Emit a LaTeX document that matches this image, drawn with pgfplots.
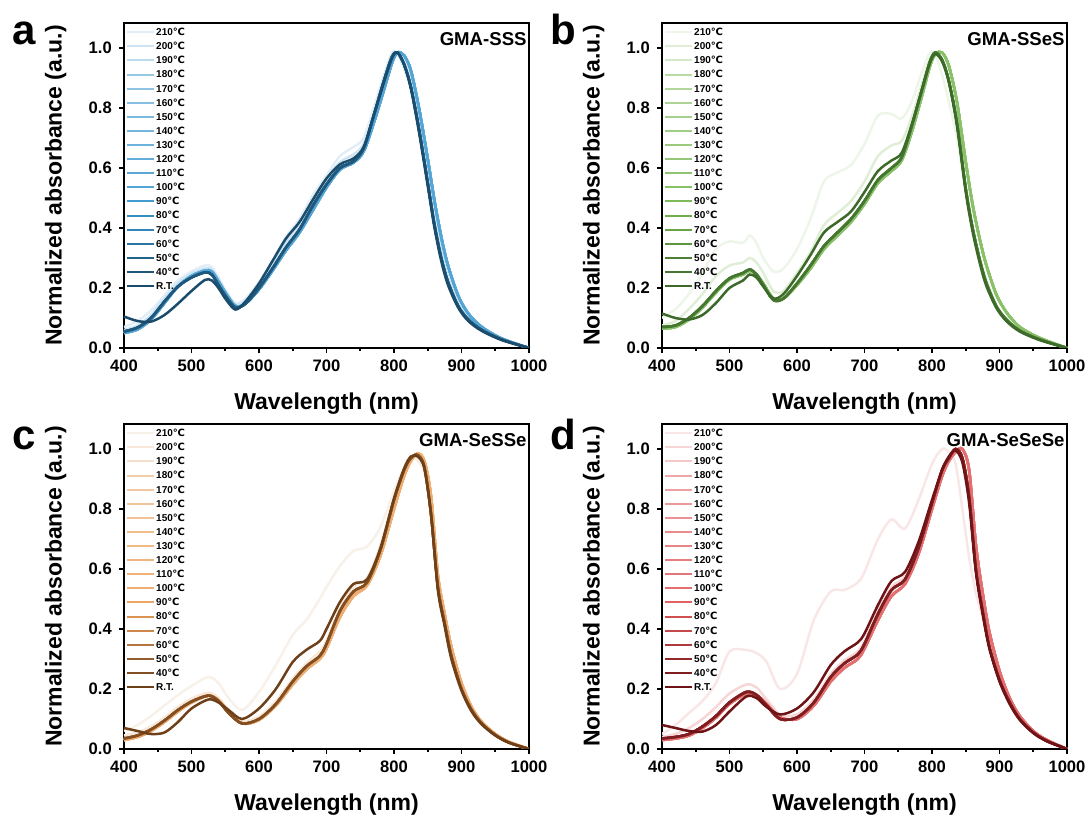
\documentclass[border=0pt]{standalone}
\usepackage{fontspec}
\setmainfont{Liberation Sans}
\newfontfamily\symfont{DejaVu Sans}
\usepackage{pgfplots}
\usepackage{pgfplotstable}
\pgfplotsset{compat=1.18}

% palettes: pale / mid / dark for each panel
\definecolor{aP}{HTML}{E2EEF7}\definecolor{aM}{HTML}{3A98D0}\definecolor{aD}{HTML}{1B4C6B}
\definecolor{bP}{HTML}{EEF5E9}\definecolor{bM}{HTML}{77B852}\definecolor{bD}{HTML}{3D6A2B}
\definecolor{cP}{HTML}{F8F1EA}\definecolor{cM}{HTML}{EDA25C}\definecolor{cD}{HTML}{6E4019}
\definecolor{dP}{HTML}{F9E7E7}\definecolor{dM}{HTML}{E05A5C}\definecolor{dD}{HTML}{6E1416}

\newcommand{\dC}{{\symfont ℃}}

% GMA-SSS
\pgfplotstableread{
x h210 h200 bl bd rt
400 0.070 0.060 0.050 0.055 0.105
420 0.090 0.075 0.062 0.068 0.090
440 0.125 0.110 0.095 0.100 0.088
460 0.175 0.165 0.150 0.155 0.110
480 0.225 0.215 0.205 0.205 0.148
500 0.255 0.248 0.240 0.235 0.190
520 0.275 0.265 0.258 0.252 0.227
530 0.270 0.262 0.255 0.245 0.225
540 0.235 0.228 0.222 0.210 0.200
550 0.195 0.190 0.185 0.175 0.165
565 0.150 0.145 0.140 0.135 0.128
580 0.165 0.158 0.148 0.148 0.155
600 0.220 0.210 0.195 0.200 0.215
620 0.290 0.278 0.258 0.265 0.290
640 0.370 0.350 0.325 0.335 0.365
660 0.430 0.410 0.385 0.395 0.420
680 0.510 0.490 0.460 0.475 0.495
700 0.575 0.560 0.535 0.545 0.565
720 0.640 0.620 0.595 0.600 0.612
740 0.670 0.645 0.618 0.622 0.632
755 0.700 0.680 0.655 0.665 0.670
770 0.800 0.780 0.750 0.775 0.775
785 0.910 0.895 0.860 0.890 0.885
797 0.985 0.975 0.950 0.970 0.965
805 0.980 0.985 0.985 0.985 0.985
815 0.930 0.955 0.975 0.945 0.945
825 0.860 0.890 0.925 0.870 0.865
837 0.720 0.750 0.800 0.730 0.720
850 0.550 0.580 0.630 0.550 0.540
860 0.420 0.440 0.490 0.410 0.400
870 0.310 0.330 0.370 0.300 0.290
880 0.230 0.240 0.275 0.220 0.210
895 0.150 0.155 0.175 0.140 0.135
910 0.100 0.100 0.115 0.095 0.090
930 0.062 0.064 0.070 0.060 0.057
960 0.030 0.030 0.031 0.028 0.026
1000 0.000 0.000 0.000 0.000 0.000
}\dataA

% GMA-SSeS
\pgfplotstableread{
x h210 h200 bl bd rt
400 0.100 0.075 0.065 0.070 0.115
420 0.130 0.090 0.070 0.075 0.100
440 0.180 0.130 0.095 0.100 0.095
460 0.250 0.180 0.135 0.140 0.110
480 0.330 0.240 0.185 0.190 0.150
500 0.355 0.275 0.228 0.232 0.200
520 0.350 0.285 0.245 0.250 0.225
530 0.375 0.300 0.258 0.262 0.245
540 0.350 0.285 0.245 0.245 0.235
550 0.300 0.250 0.215 0.210 0.205
565 0.255 0.190 0.165 0.160 0.165
580 0.265 0.190 0.165 0.165 0.180
600 0.330 0.250 0.210 0.215 0.240
620 0.430 0.320 0.265 0.275 0.310
640 0.555 0.410 0.330 0.340 0.385
660 0.585 0.450 0.375 0.385 0.420
680 0.610 0.490 0.420 0.430 0.455
700 0.680 0.555 0.480 0.490 0.520
720 0.775 0.640 0.550 0.560 0.590
740 0.780 0.675 0.590 0.600 0.625
755 0.765 0.690 0.625 0.635 0.650
770 0.820 0.770 0.720 0.740 0.745
785 0.920 0.880 0.840 0.860 0.860
797 0.985 0.965 0.940 0.955 0.950
805 0.975 0.985 0.980 0.985 0.980
815 0.910 0.955 0.985 0.960 0.955
825 0.820 0.890 0.940 0.890 0.885
837 0.700 0.750 0.820 0.750 0.740
850 0.520 0.540 0.620 0.530 0.520
860 0.390 0.410 0.480 0.400 0.390
870 0.290 0.310 0.370 0.300 0.290
880 0.210 0.230 0.280 0.220 0.210
895 0.135 0.145 0.180 0.140 0.135
910 0.090 0.097 0.120 0.095 0.090
930 0.055 0.060 0.070 0.058 0.055
960 0.026 0.028 0.033 0.028 0.026
1000 0.000 0.000 0.000 0.000 0.000
}\dataB

% GMA-SeSSe
\pgfplotstableread{
x h210 h200 bl bd rt
400 0.060 0.045 0.030 0.035 0.070
420 0.080 0.055 0.040 0.045 0.060
440 0.110 0.075 0.060 0.065 0.050
460 0.145 0.105 0.090 0.095 0.055
480 0.180 0.140 0.125 0.130 0.090
500 0.210 0.168 0.155 0.158 0.135
525 0.240 0.188 0.178 0.178 0.165
540 0.220 0.170 0.163 0.160 0.155
555 0.170 0.130 0.125 0.120 0.130
575 0.130 0.093 0.085 0.085 0.100
600 0.190 0.108 0.097 0.100 0.135
625 0.280 0.160 0.145 0.150 0.200
650 0.380 0.235 0.215 0.225 0.290
670 0.430 0.285 0.265 0.275 0.330
690 0.500 0.325 0.300 0.310 0.360
700 0.540 0.360 0.335 0.350 0.400
720 0.610 0.470 0.440 0.460 0.490
740 0.660 0.540 0.510 0.525 0.550
760 0.675 0.570 0.545 0.555 0.565
780 0.740 0.680 0.645 0.665 0.670
800 0.860 0.840 0.800 0.830 0.835
815 0.940 0.935 0.910 0.930 0.935
825 0.975 0.970 0.960 0.970 0.975
835 0.960 0.975 0.985 0.980 0.975
845 0.920 0.935 0.960 0.940 0.935
855 0.780 0.790 0.840 0.780 0.780
865 0.540 0.550 0.580 0.540 0.530
875 0.410 0.420 0.450 0.420 0.410
885 0.300 0.310 0.340 0.310 0.300
900 0.190 0.200 0.220 0.200 0.195
915 0.125 0.130 0.140 0.130 0.125
930 0.080 0.085 0.090 0.085 0.082
950 0.045 0.047 0.050 0.047 0.045
970 0.020 0.022 0.024 0.022 0.021
1000 0.000 0.000 0.000 0.000 0.000
}\dataC

% GMA-SeSeSe
\pgfplotstableread{
x h210 h200 bl bd rt
400 0.050 0.040 0.030 0.035 0.080
420 0.080 0.050 0.035 0.040 0.070
440 0.120 0.070 0.045 0.050 0.060
460 0.160 0.100 0.070 0.075 0.058
480 0.220 0.140 0.105 0.110 0.080
500 0.325 0.185 0.150 0.155 0.125
525 0.330 0.215 0.185 0.190 0.175
540 0.320 0.205 0.180 0.180 0.170
555 0.290 0.165 0.150 0.145 0.140
575 0.200 0.115 0.105 0.100 0.115
600 0.250 0.115 0.100 0.105 0.135
625 0.430 0.165 0.145 0.155 0.190
650 0.525 0.250 0.225 0.240 0.280
670 0.530 0.295 0.270 0.285 0.325
690 0.555 0.325 0.300 0.315 0.355
700 0.590 0.360 0.335 0.350 0.385
720 0.700 0.460 0.430 0.450 0.480
740 0.765 0.540 0.510 0.530 0.560
760 0.735 0.575 0.550 0.565 0.590
780 0.830 0.680 0.650 0.670 0.690
800 0.950 0.830 0.800 0.820 0.830
815 1.000 0.935 0.910 0.930 0.930
825 0.990 0.975 0.960 0.970 0.975
835 0.950 1.000 0.990 1.000 0.995
845 0.800 0.960 1.000 0.970 0.955
855 0.640 0.840 0.930 0.840 0.820
865 0.520 0.600 0.680 0.600 0.590
875 0.440 0.460 0.520 0.460 0.450
885 0.360 0.340 0.390 0.340 0.335
900 0.240 0.230 0.260 0.230 0.225
915 0.160 0.155 0.170 0.155 0.150
930 0.100 0.100 0.110 0.100 0.097
950 0.055 0.055 0.060 0.055 0.053
970 0.025 0.027 0.030 0.027 0.026
1000 0.000 0.000 0.000 0.000 0.000
}\dataD

\pgfplotsset{
  legend image code/.code={\draw[#1, line width=1pt] (0pt,0pt) -- (13.5pt,0pt);},
  panel/.style={
    scale only axis, width=202.5pt, height=162.5pt,
    xmin=400, xmax=1000, ymin=0, ymax=1.0833,
    xtick={400,500,600,700,800,900,1000}, minor x tick num=1,
    ytick={0,0.2,0.4,0.6,0.8,1.0},
    tick pos=left, tick align=outside,
    major tick length=2.6pt, minor tick length=1.4pt,
    axis line style={line width=1pt},
    every tick/.style={black, line width=0.9pt},
    /pgf/number format/assume math mode=true,
    ticklabel style={font=\bfseries\fontsize{8.3}{9}\selectfont},
    yticklabel style={/pgf/number format/.cd, fixed, fixed zerofill, precision=1},
    xticklabel style={/pgf/number format/.cd, 1000 sep={}},
    xlabel={Wavelength (nm)}, ylabel={Normalized absorbance (a.u.)},
    label style={font=\bfseries\fontsize{11.5}{13}\selectfont},
    xlabel style={at={(axis description cs:0.5,-0.117)}, anchor=north},
    ylabel style={at={(axis description cs:-0.125,0.5)}, anchor=south},
    legend cell align=left,
    legend style={draw=none, fill=none, at={(0.003,0.99)}, anchor=north west,
      inner sep=0pt, row sep=1.45pt, font=\bfseries\fontsize{5}{5}\selectfont,
      nodes={inner sep=0.8pt, text height=3.7pt, text depth=0.3pt}},
  },
}
\tikzset{
  ttl/.style={anchor=north east, inner sep=0pt, font=\bfseries\fontsize{9.3}{10}\selectfont},
  letter/.style={anchor=base west, inner sep=0pt, font=\bfseries\fontsize{21}{23}\selectfont},
}

\newcommand{\cur}[4]{\addplot[color={#1}, line width=1.25pt, smooth] table[x=x, y=#2] {#3}; \addlegendentry{#4}}
\newcommand{\allcurves}[2]{%
  \cur{#1P}{h210}{#2}{210\dC}
  \cur{#1M!12!#1P}{h200}{#2}{200\dC}
  \cur{#1M!22!#1P}{bl}{#2}{190\dC}
  \cur{#1M!45!#1P}{bl}{#2}{180\dC}
  \cur{#1M!50!#1P}{bl}{#2}{170\dC}
  \cur{#1M!55!#1P}{bl}{#2}{160\dC}
  \cur{#1M!60!#1P}{bl}{#2}{150\dC}
  \cur{#1M!65!#1P}{bl}{#2}{140\dC}
  \cur{#1M!70!#1P}{bl}{#2}{130\dC}
  \cur{#1M!75!#1P}{bl}{#2}{120\dC}
  \cur{#1M!80!#1P}{bl}{#2}{110\dC}
  \cur{#1M!85!#1P}{bl}{#2}{100\dC}
  \cur{#1M!95!#1P}{bd}{#2}{90\dC}
  \cur{#1D!15!#1M}{bd}{#2}{80\dC}
  \cur{#1D!25!#1M}{bd}{#2}{70\dC}
  \cur{#1D!45!#1M}{bd}{#2}{60\dC}
  \cur{#1D!70!#1M}{bd}{#2}{50\dC}
  \cur{#1D!85!#1M}{bd}{#2}{40\dC}
  \cur{#1D}{rt}{#2}{R.T.}
}

\begin{document}
\begin{tikzpicture}
\useasboundingbox (0,0) rectangle (544pt,-408.5pt);

\begin{axis}[panel, at={(62pt,-11.5pt)}, anchor=north west]
\allcurves{a}{\dataA}
\node[ttl] at (rel axis cs:0.995,0.972) {GMA-SSS};
\end{axis}

\begin{axis}[panel, at={(331pt,-11.5pt)}, anchor=north west]
\allcurves{b}{\dataB}
\node[ttl] at (rel axis cs:0.995,0.972) {GMA-SSeS};
\end{axis}

\begin{axis}[panel, at={(62pt,-212pt)}, anchor=north west]
\allcurves{c}{\dataC}
\node[ttl] at (rel axis cs:0.995,0.972) {GMA-SeSSe};
\end{axis}

\begin{axis}[panel, at={(331pt,-212pt)}, anchor=north west]
\allcurves{d}{\dataD}
\node[ttl] at (rel axis cs:0.995,0.972) {GMA-SeSeSe};
\end{axis}

\node[letter] at (6pt,-22.5pt) {a};
\node[letter] at (275pt,-22.5pt) {b};
\node[letter] at (6pt,-225pt) {c};
\node[letter] at (275pt,-225pt) {d};
\end{tikzpicture}
\end{document}
